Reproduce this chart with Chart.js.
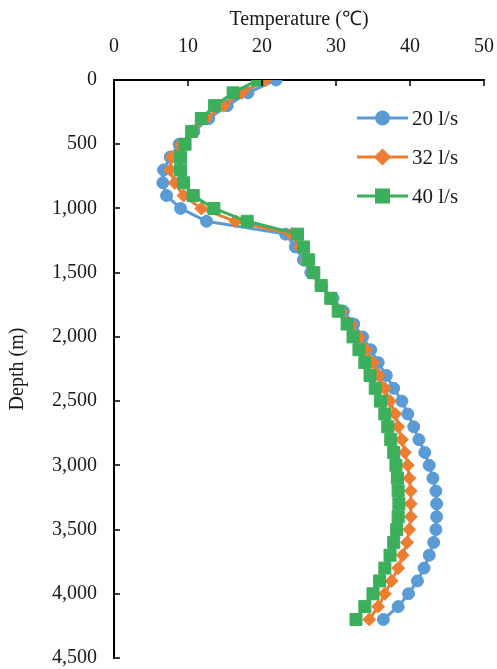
<!DOCTYPE html>
<html>
<head>
<meta charset="utf-8">
<script src="https://cdn.jsdelivr.net/npm/chart.js@4.4.1/dist/chart.umd.min.js"></script>
<style>
  html, body { margin: 0; padding: 0; background: #fff; }
  #wrap { width: 497px; height: 669px; }
</style>
</head>
<body>
<div id="wrap"><canvas id="depthChart" width="497" height="669"></canvas></div>
<script>
// depth of each reading (m)
const depth = [0, 100, 200, 300, 400, 500, 600, 700, 800, 900, 1000, 1100, 1200, 1300, 1400,
  1500, 1600, 1700, 1800, 1900, 2000, 2100, 2200, 2300, 2400, 2500, 2600, 2700, 2800, 2900,
  3000, 3100, 3200, 3300, 3400, 3500, 3600, 3700, 3800, 3900, 4000, 4100, 4200];

// temperature (°C) for each flow rate
const temp20 = [21.9, 18.1, 15.3, 12.8, 10.8, 8.8, 7.6, 6.7, 6.6, 7.1, 9.0, 12.5, 23.2, 24.5, 25.6,
  26.6, 28.0, 29.6, 31.0, 32.4, 33.6, 34.7, 35.7, 36.8, 37.8, 38.9, 39.7, 40.5, 41.2, 42.0,
  42.6, 43.1, 43.5, 43.6, 43.6, 43.5, 43.2, 42.6, 41.9, 41.0, 39.8, 38.4, 36.4];
const temp32 = [20.5, 17.3, 14.8, 12.4, 10.6, 9.1, 7.8, 7.6, 8.2, 9.4, 11.8, 16.4, 24.0, 25.1, 26.0,
  26.9, 28.0, 29.4, 30.7, 32.0, 33.1, 34.1, 35.0, 35.8, 36.6, 37.3, 38.0, 38.4, 38.9, 39.3,
  39.7, 39.9, 40.1, 40.1, 40.1, 39.9, 39.6, 39.0, 38.4, 37.5, 36.6, 35.7, 34.5];
const temp40 = [19.4, 16.1, 13.6, 11.8, 10.5, 9.6, 9.0, 9.0, 9.4, 10.7, 13.5, 18.0, 24.8, 25.6, 26.3,
  27.0, 28.0, 29.3, 30.3, 31.5, 32.3, 33.1, 33.9, 34.6, 35.3, 36.0, 36.6, 37.0, 37.4, 37.8,
  38.1, 38.3, 38.4, 38.5, 38.4, 38.2, 37.8, 37.3, 36.6, 35.9, 35.0, 33.9, 32.7];

const seriesNames = ['20 l/s', '32 l/s', '40 l/s'];

const FONT = 'Liberation Serif, "Times New Roman", serif';
const toPoints = (temps) => temps.map((t, i) => ({ x: t, y: depth[i] }));

// small ticks pointing into the plot
const innerTicks = {
    id: 'innerTicks',
    afterDraw(chart) {
        const ctx = chart.ctx;
        const area = chart.chartArea;
        const xs = chart.scales.x;
        const ys = chart.scales.y;
        ctx.save();
        ctx.strokeStyle = '#000';
        ctx.lineWidth = 1.5;
        ctx.beginPath();
        xs.ticks.forEach(t => {
            const px = Math.round(xs.getPixelForValue(t.value));
            ctx.moveTo(px, area.top);
            ctx.lineTo(px, area.top + 6);
        });
        ys.ticks.forEach(t => {
            const py = Math.round(ys.getPixelForValue(t.value));
            ctx.moveTo(area.left, py);
            ctx.lineTo(area.left + 6, py);
        });
        ctx.stroke();
        ctx.restore();
    }
};

// legend: line with marker, inside the plot at top right
const lineLegend = {
    id: 'lineLegend',
    afterDraw(chart) {
        const ctx = chart.ctx;
        const x1 = 357, x2 = 408;
        const rows = [118, 157, 196];
        ctx.save();
        chart.data.datasets.forEach((ds, i) => {
            const y = rows[i];
            ctx.strokeStyle = ds.borderColor;
            ctx.lineWidth = 3;
            ctx.beginPath();
            ctx.moveTo(x1, y);
            ctx.lineTo(x2, y);
            ctx.stroke();
            ctx.fillStyle = ds.pointBackgroundColor;
            ctx.strokeStyle = ds.pointBorderColor;
            Chart.helpers.drawPoint(ctx, {
                pointStyle: ds.pointStyle,
                radius: ds.pointRadius,
                rotation: 0,
                borderWidth: ds.pointBorderWidth
            }, (x1 + x2) / 2, y);
            ctx.fillStyle = '#1a1a1a';
            ctx.font = '21px ' + FONT;
            ctx.textBaseline = 'middle';
            ctx.textAlign = 'left';
            ctx.fillText(ds.label, x2 + 4, y + 1);
        });
        ctx.restore();
    }
};

const colors = ['#5B9BD5', '#ED7D31', '#3BAF5B'];
const styles = ['circle', 'rectRot', 'rect'];
const radii = [6, 6.5, 8.5];

const datasets = [temp20, temp32, temp40].map((temps, i) => ({
    label: seriesNames[i],
    data: toPoints(temps),
    showLine: true,
    borderColor: colors[i],
    borderWidth: 3,
    pointStyle: styles[i],
    pointRadius: radii[i],
    pointBackgroundColor: colors[i],
    pointBorderColor: colors[i],
    pointBorderWidth: 1,
    order: 3 - i,
}));

const ctx = document.getElementById('depthChart').getContext('2d');
const depthChart = new Chart(ctx, {
    type: 'scatter',
    data: { datasets: datasets },
    plugins: [innerTicks, lineLegend],
    options: {
        responsive: false,
        animation: false,
        events: [],
        layout: { padding: { left: 0, top: 0, right: 13, bottom: 11 } },
        plugins: {
            legend: { display: false },
            tooltip: { enabled: false },
        },
        scales: {
            x: {
                type: 'linear',
                position: 'top',
                min: 0,
                max: 50,
                ticks: {
                    stepSize: 10,
                    color: '#1a1a1a',
                    padding: 21,
                    font: { family: FONT, size: 20 },
                },
                grid: { display: false, drawTicks: false },
                border: { display: true, color: '#000', width: 2 },
                title: {
                    display: true,
                    text: 'Temperature (℃)',
                    color: '#1a1a1a',
                    padding: { top: 8, bottom: 0 },
                    font: { family: FONT, size: 20 },
                },
                afterFit: (scale) => {
                    scale.height = 80;
                    scale.paddingLeft = 0;
                    scale.paddingRight = 0;
                },
            },
            y: {
                type: 'linear',
                reverse: true,
                min: 0,
                max: 4500,
                ticks: {
                    stepSize: 500,
                    color: '#1a1a1a',
                    padding: 17,
                    font: { family: FONT, size: 20 },
                },
                grid: { display: false, drawTicks: false },
                border: { display: true, color: '#000', width: 2 },
                title: {
                    display: true,
                    text: 'Depth (m)',
                    color: '#1a1a1a',
                    padding: { top: 6, bottom: 0 },
                    font: { family: FONT, size: 20 },
                },
                afterFit: (scale) => {
                    scale.width = 114;
                    scale.paddingTop = 0;
                    scale.paddingBottom = 0;
                },
            },
        },
    },
});
</script>
</body>
</html>
